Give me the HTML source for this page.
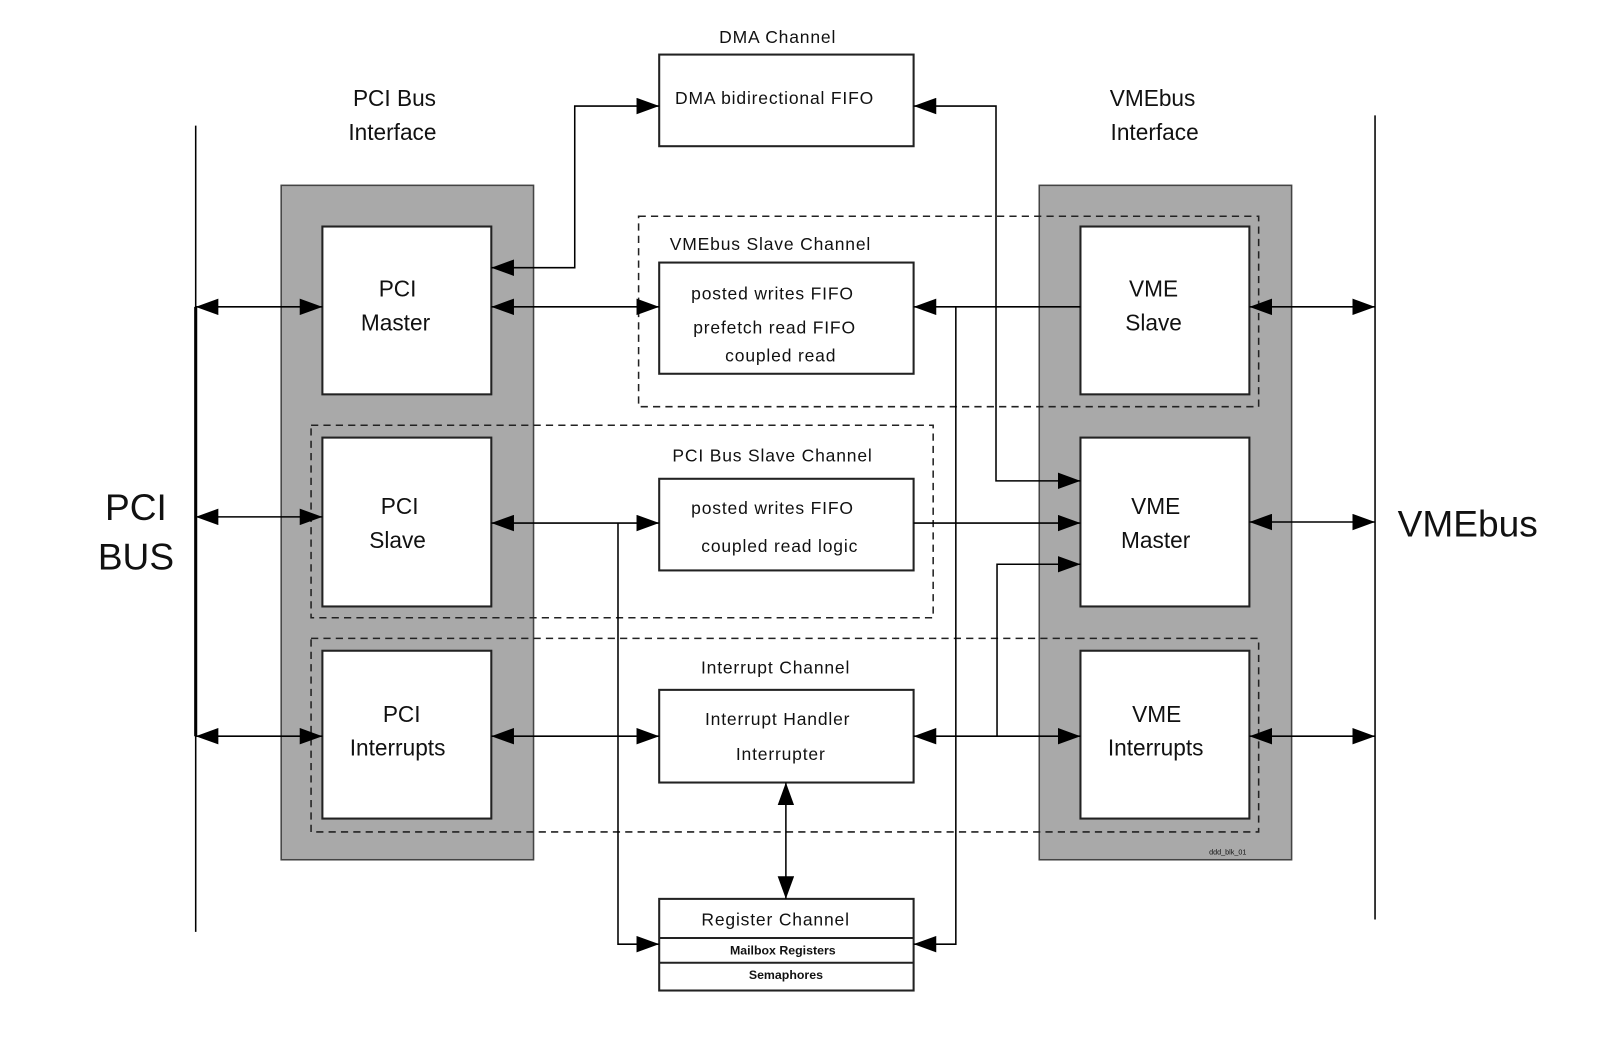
<!DOCTYPE html>
<html><head><meta charset="utf-8"><style>
html,body{margin:0;padding:0;background:#fff;}
svg{display:block;}
text{font-family:"Liberation Sans",Arial,sans-serif;fill:#111;}
</style></head><body>
<svg width="1614" height="1042" viewBox="0 0 1567 1012" preserveAspectRatio="none" xmlns="http://www.w3.org/2000/svg">
<defs>
<marker id="a" markerUnits="userSpaceOnUse" markerWidth="24" markerHeight="16" refX="22" refY="8" orient="auto-start-reverse">
<path d="M0,0 L22,8 L0,16 Z" fill="#000"/></marker>
</defs>
<rect width="1567" height="1012" fill="#fff"/>
<!-- bus lines -->
<line x1="190" y1="122" x2="190" y2="905" stroke="#000" stroke-width="1.5"/>
<line x1="190" y1="298" x2="190" y2="715" stroke="#000" stroke-width="3"/>
<line x1="1335" y1="112" x2="1335" y2="893" stroke="#000" stroke-width="1.5"/>
<text x="132" y="505" font-size="36" text-anchor="middle">PCI</text>
<text x="132" y="553" font-size="36" text-anchor="middle">BUS</text>
<text x="1425" y="521" font-size="36" text-anchor="middle">VMEbus</text>
<text x="383" y="103" font-size="22" text-anchor="middle">PCI Bus</text>
<text x="381" y="136" font-size="22" text-anchor="middle">Interface</text>
<text x="1119" y="103" font-size="22" text-anchor="middle">VMEbus</text>
<text x="1121" y="136" font-size="22" text-anchor="middle">Interface</text>
<!-- gray panels -->
<rect x="273" y="180" width="245" height="655" fill="#a9a9a9" stroke="#444" stroke-width="1.5"/>
<rect x="1009" y="180" width="245" height="655" fill="#a9a9a9" stroke="#444" stroke-width="1.5"/>
<g fill="#fff" stroke="#222" stroke-width="2">
<rect x="313" y="220" width="164" height="163"/>
<rect x="313" y="425" width="164" height="164"/>
<rect x="313" y="632" width="164" height="163"/>
<rect x="1049" y="220" width="164" height="163"/>
<rect x="1049" y="425" width="164" height="164"/>
<rect x="1049" y="632" width="164" height="163"/>
<rect x="640" y="53" width="247" height="89"/>
<rect x="640" y="255" width="247" height="108"/>
<rect x="640" y="465" width="247" height="89"/>
<rect x="640" y="670" width="247" height="90"/>
<rect x="640" y="873" width="247" height="89"/>
</g>
<line x1="640" y1="911" x2="887" y2="911" stroke="#222" stroke-width="2"/>
<line x1="640" y1="935" x2="887" y2="935" stroke="#222" stroke-width="2"/>
<!-- dashed channels -->
<g fill="none" stroke="#222" stroke-width="1.5" stroke-dasharray="7,5">
<rect x="620" y="210" width="602" height="185"/>
<rect x="302" y="413" width="604" height="187"/>
<rect x="302" y="620" width="920" height="188"/>
</g>
<!-- box labels -->
<g font-size="22" text-anchor="middle">
<text x="386" y="288">PCI</text><text x="384" y="321">Master</text>
<text x="388" y="499">PCI</text><text x="386" y="532">Slave</text>
<text x="390" y="701">PCI</text><text x="386" y="734">Interrupts</text>
<text x="1120" y="288">VME</text><text x="1120" y="321">Slave</text>
<text x="1122" y="499">VME</text><text x="1122" y="532">Master</text>
<text x="1123" y="701">VME</text><text x="1122" y="734">Interrupts</text>
</g>
<g font-size="17" text-anchor="middle" letter-spacing="0.8">
<text x="755" y="42">DMA Channel</text>
<text x="752" y="101">DMA bidirectional FIFO</text>
<text x="748" y="243">VMEbus Slave Channel</text>
<text x="750" y="291">posted writes FIFO</text>
<text x="752" y="324">prefetch read FIFO</text>
<text x="758" y="351">coupled read</text>
<text x="750" y="448">PCI Bus Slave Channel</text>
<text x="750" y="499">posted writes FIFO</text>
<text x="757" y="536">coupled read logic</text>
<text x="753" y="654">Interrupt Channel</text>
<text x="755" y="704">Interrupt Handler</text>
<text x="758" y="738">Interrupter</text>
<text x="753" y="899">Register Channel</text>
</g>
<text x="760" y="927" font-size="12" font-weight="bold" text-anchor="middle">Mailbox Registers</text>
<text x="763" y="951" font-size="12" font-weight="bold" text-anchor="middle">Semaphores</text>
<text x="1192" y="830" font-size="7" text-anchor="middle">ddd_blk_01</text>
<!-- connectors -->
<g fill="none" stroke="#000" stroke-width="1.5">
<line x1="190" y1="298" x2="313" y2="298" marker-start="url(#a)" marker-end="url(#a)"/>
<line x1="190" y1="502" x2="313" y2="502" marker-start="url(#a)" marker-end="url(#a)"/>
<line x1="190" y1="715" x2="313" y2="715" marker-start="url(#a)" marker-end="url(#a)"/>
<line x1="1213" y1="298" x2="1335" y2="298" marker-start="url(#a)" marker-end="url(#a)"/>
<line x1="1213" y1="507" x2="1335" y2="507" marker-start="url(#a)" marker-end="url(#a)"/>
<line x1="1213" y1="715" x2="1335" y2="715" marker-start="url(#a)" marker-end="url(#a)"/>
<polyline points="477,260 558,260 558,103 640,103" marker-start="url(#a)" marker-end="url(#a)"/>
<line x1="477" y1="298" x2="640" y2="298" marker-start="url(#a)" marker-end="url(#a)"/>
<polyline points="887,103 967,103 967,467 1049,467" marker-start="url(#a)" marker-end="url(#a)"/>
<polyline points="1049,298 887,298" marker-end="url(#a)"/>
<polyline points="928,298 928,917 887,917" marker-end="url(#a)"/>
<line x1="477" y1="508" x2="640" y2="508" marker-start="url(#a)" marker-end="url(#a)"/>
<polyline points="600,508 600,917 640,917" marker-end="url(#a)"/>
<line x1="887" y1="508" x2="1049" y2="508" marker-end="url(#a)"/>
<polyline points="968,715 968,548 1049,548" marker-end="url(#a)"/>
<line x1="477" y1="715" x2="640" y2="715" marker-start="url(#a)" marker-end="url(#a)"/>
<line x1="887" y1="715" x2="1049" y2="715" marker-start="url(#a)" marker-end="url(#a)"/>
<line x1="763" y1="760" x2="763" y2="873" marker-start="url(#a)" marker-end="url(#a)"/>
</g>
</svg>
</body></html>
